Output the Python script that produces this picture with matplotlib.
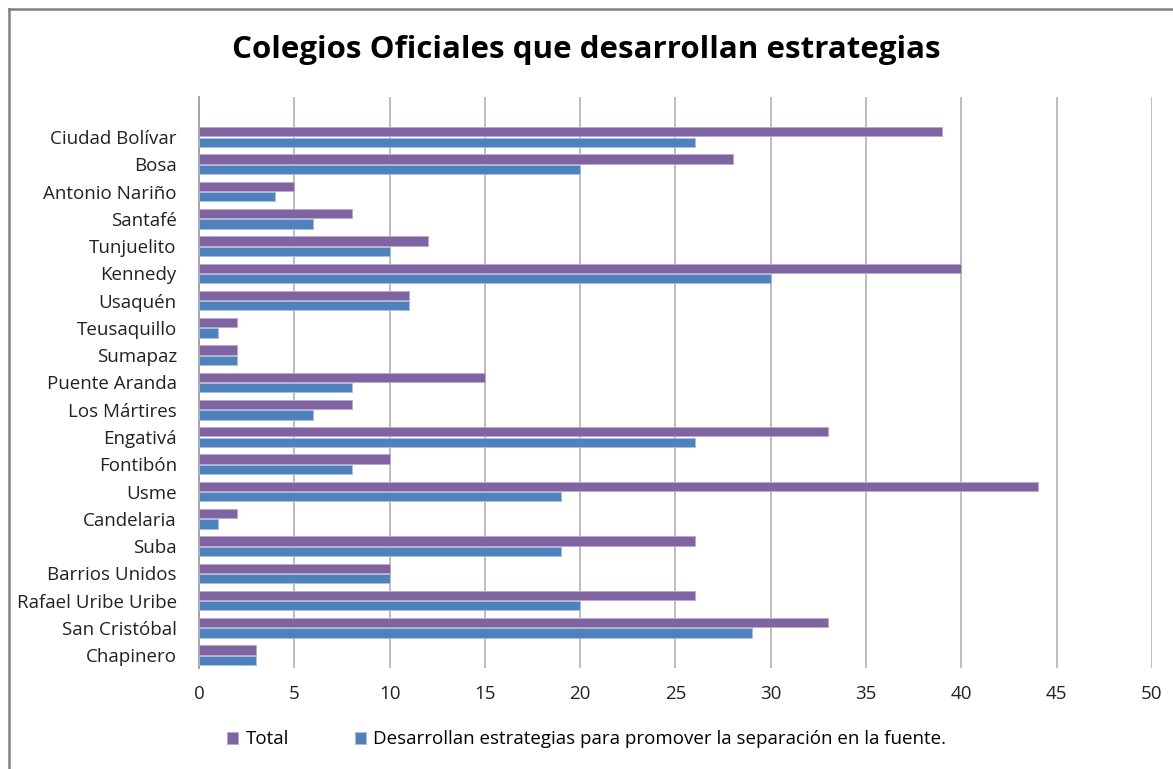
import matplotlib.pyplot as plt
import numpy as np
from matplotlib.lines import Line2D

plt.rcParams['font.family'] = ['Open Sans', 'DejaVu Sans']

localidades = ['Ciudad Bolívar', 'Bosa', 'Antonio Nariño', 'Santafé', 'Tunjuelito',
               'Kennedy', 'Usaquén', 'Teusaquillo', 'Sumapaz', 'Puente Aranda',
               'Los Mártires', 'Engativá', 'Fontibón', 'Usme', 'Candelaria',
               'Suba', 'Barrios Unidos', 'Rafael Uribe Uribe', 'San Cristóbal', 'Chapinero']
total = [39, 28, 5, 8, 12, 40, 11, 2, 2, 15, 8, 33, 10, 44, 2, 26, 10, 26, 33, 3]
desarrollan = [26, 20, 4, 6, 10, 30, 11, 1, 2, 8, 6, 26, 8, 19, 1, 19, 10, 20, 29, 3]

purple = '#8064A2'
blue = '#4F81BD'

fig = plt.figure(figsize=(11.73, 7.69), dpi=100)
ax = fig.add_axes([0.1697, 0.131, 0.8123, 0.743])

y = np.arange(len(localidades))
h = 0.34
ax.barh(y - h / 2 - 0.02, total, height=h, color=purple, edgecolor='#B9A8CF', linewidth=0.6,
        label='Total', zorder=3)
ax.barh(y + h / 2 + 0.02, desarrollan, height=h, color=blue, edgecolor='#A6C0E0', linewidth=0.6,
        label='Desarrollan estrategias para promover la separación en la fuente.', zorder=3)

ax.set_xlim(0, 50)
ax.set_ylim(len(localidades) - 0.52, -1.47)
ax.set_xticks(range(0, 51, 5))
ax.set_yticks(y)
ax.set_yticklabels(localidades)
ax.tick_params(axis='both', length=0, labelsize=13.5, colors='#222222')
ax.tick_params(axis='y', pad=16)
ax.tick_params(axis='x', pad=12)
ax.xaxis.grid(True, color='#B8B8B8', linewidth=1.3, zorder=0)
for s in ['top', 'right', 'bottom']:
    ax.spines[s].set_visible(False)
ax.spines['left'].set_color('#A0A0A0')
ax.spines['left'].set_linewidth(1.3)

fig.suptitle('Colegios Oficiales que desarrollan estrategias', x=0.5, y=0.955,
             fontsize=22.5, fontweight='bold')

fig.legend(loc='lower center', bbox_to_anchor=(0.5, 0.005), ncol=2, frameon=False,
           fontsize=13.5, handlelength=0.6, handleheight=0.6, columnspacing=3.5, handletextpad=0.4)

# chart frame: only top and left edges show in the reference crop
x0, y0 = 9 / 1173, 1 - 8.5 / 769
fig.lines.append(Line2D([x0, 1], [y0, y0], transform=fig.transFigure, color='#808080', lw=1.8))
fig.lines.append(Line2D([x0, x0], [0, y0], transform=fig.transFigure, color='#808080', lw=1.8))

fig.savefig('out.png', dpi=100)
